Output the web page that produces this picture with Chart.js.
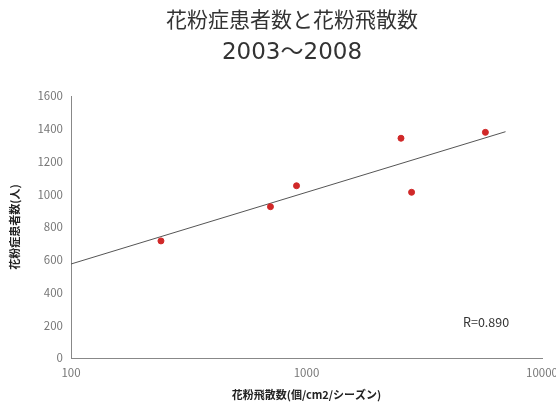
<!DOCTYPE html>
<html><head><meta charset="utf-8">
<script src="https://cdn.jsdelivr.net/npm/chart.js@4"></script>
<style>html,body{margin:0;padding:0;background:#fff}canvas{display:block}</style>
</head><body><canvas id="c" width="556" height="412" style="width:556px;height:412px"></canvas>
<script>
const titleLines = ['花粉症患者数と花粉飛散数', '2003～2008'];
const pollenCounts = [241, 703, 907, 2519, 2794, 5750];
const patientCounts = [715, 924, 1052, 1342, 1012, 1378];
const trendX = [100, 7000];
const trendY = [574, 1382];
const xTicks = [100, 1000, 10000];
const yTicks = [0, 200, 400, 600, 800, 1000, 1200, 1400, 1600];
const rLabel = 'R=0.890';
const xTitle = '花粉飛散数(個/cm2/シーズン)';
const yTitle = '花粉症患者数(人)';

const FONT = '"Noto Sans CJK JP", "Noto Sans", sans-serif';
const TFONT = '"DejaVu Sans", "Noto Sans CJK JP", sans-serif';

const textPlugin = {
  id: 'texts',
  afterDatasetsDraw(chart) {
    const ctx = chart.ctx;
    ctx.save();
    ctx.fillStyle = '#333';
    ctx.textAlign = 'center';
    ctx.textBaseline = 'middle';
    ctx.font = '21px ' + TFONT;
    ctx.fillText(titleLines[0], 292, 22);
    ctx.font = '23px ' + TFONT;
    ctx.fillText(titleLines[1], 292, 53);
    ctx.font = '12.5px ' + FONT;
    ctx.fillStyle = '#333';
    ctx.textAlign = 'left';
    ctx.fillText(rLabel, 463, 322);
    ctx.restore();
  }
};

new Chart(document.getElementById('c'), {
  type: 'scatter',
  data: {
    datasets: [
      {
        data: pollenCounts.map((x, i) => ({x, y: patientCounts[i]})),
        backgroundColor: '#d02828',
        borderColor: '#d02828',
        pointRadius: 3,
        pointHoverRadius: 3
      },
      {
        type: 'line',
        data: trendX.map((x, i) => ({x, y: trendY[i]})),
        borderColor: '#555',
        borderWidth: 1,
        pointRadius: 0,
        fill: false
      }
    ]
  },
  options: {
    responsive: false,
    animation: false,
    devicePixelRatio: 1,
    layout: { padding: { left: 0, right: 0, top: 96, bottom: 0 } },
    plugins: {
      legend: { display: false },
      tooltip: { enabled: false },
      title: { display: false }
    },
    scales: {
      x: {
        type: 'logarithmic',
        min: 100, max: 10000,
        afterBuildTicks(scale) { scale.ticks = xTicks.map(v => ({value: v})); },
        afterFit(scale) { scale.height = 54; scale.paddingRight = 14; scale.paddingLeft = 0; },
        grid: { display: false, drawTicks: true, tickLength: 3 },
        border: { color: '#888', width: 1 },
        ticks: {
          color: '#777', font: { family: FONT, size: 11.5 },
          padding: 5, maxRotation: 0, autoSkip: false,
          callback: v => String(v)
        },
        title: {
          display: true, text: xTitle, color: '#222',
          font: { family: FONT, size: 11, weight: 'bold' },
          padding: { top: 10.4, bottom: 10.4 }
        }
      },
      y: {
        min: 0, max: 1600,
        afterBuildTicks(scale) { scale.ticks = yTicks.map(v => ({value: v})); },
        afterFit(scale) { scale.width = 71; },
        grid: { display: false, drawTicks: true, tickLength: 4 },
        border: { color: '#888', width: 1 },
        ticks: {
          color: '#777', font: { family: FONT, size: 11.5 }, padding: 4,
          callback: v => String(v)
        },
        title: {
          display: true, text: yTitle, color: '#222',
          font: { family: FONT, size: 11, weight: 'bold' },
          padding: { top: 8.4, bottom: 8.4 }
        }
      }
    }
  },
  plugins: [textPlugin]
});
</script></body></html>
